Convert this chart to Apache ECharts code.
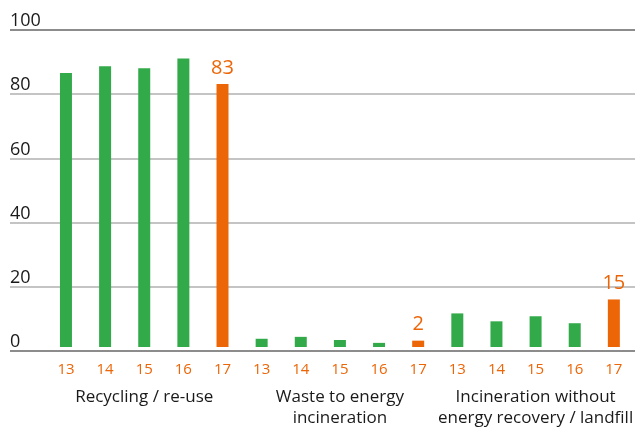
<!DOCTYPE html>
<html>
<head>
<meta charset="utf-8">
<script src="https://cdn.jsdelivr.net/npm/echarts@6/dist/echarts.min.js"></script>
<style>
html,body{margin:0;padding:0;background:#fff;}
#chart{width:636px;height:429px;}
</style>
</head>
<body>
<div id="chart"></div>
<script>
const groups = ['Recycling / re-use', 'Waste to energy\nincineration', 'Incineration without\nenergy recovery / landfill'];
const years = ['13', '14', '15', '16', '17'];
const recycling = [86.4, 88.6, 87.9, 91.0, 83];
const wasteToEnergy = [2.6, 3.2, 2.2, 1.3, 2];
const landfill = [10.6, 8.1, 9.7, 7.5, 15];
const yTicks = [0, 20, 40, 60, 80, 100];

const GREEN = '#33aa4a';
const ORANGE = '#ec6608';
const FONT = 'Open Sans';

const allValues = [recycling, wasteToEnergy, landfill];
const cats = [];
const data = [];
allValues.forEach(function (vals) {
  vals.forEach(function (v, i) {
    cats.push(years[i]);
    const latest = i === years.length - 1;
    data.push({
      value: v,
      itemStyle: { color: latest ? ORANGE : GREEN },
      label: { show: latest }
    });
  });
});

const chart = echarts.init(document.getElementById('chart'));
chart.setOption({
  animation: false,
  grid: [
    { left: 10, right: 1, top: 30, bottom: 78 },
    { left: 46.4, right: 1.4, top: 30, bottom: 78 }
  ],
  xAxis: [
    { gridIndex: 0, type: 'value', show: false, min: 0, max: 1 },
    {
      gridIndex: 1, type: 'category', data: cats,
      axisLine: { show: false }, axisTick: { show: false },
      axisLabel: { color: ORANGE, fontFamily: FONT, fontSize: 15, margin: 15, interval: 0 }
    },
    {
      gridIndex: 1, type: 'category', data: groups, position: 'bottom', offset: 40,
      axisLine: { show: false }, axisTick: { show: false },
      axisLabel: { color: '#1a1a1a', fontFamily: FONT, fontSize: 17, lineHeight: 21, margin: 0, interval: 0, verticalAlign: 'top' }
    }
  ],
  yAxis: [
    {
      gridIndex: 0, type: 'value', min: yTicks[0], max: yTicks[yTicks.length - 1], interval: 20,
      axisLine: { show: false }, axisTick: { show: false },
      splitLine: { show: true, lineStyle: { color: ['#8c8c8c', '#c4c4c4', '#c4c4c4', '#c4c4c4', '#c4c4c4', '#8c8c8c'], width: 2 } },
      axisLabel: { inside: true, margin: 0, color: '#1a1a1a', fontFamily: FONT, fontSize: 18, verticalAlign: 'bottom', align: 'left', lineHeight: 18 }
    },
    { gridIndex: 1, type: 'value', min: 0, max: 100, show: false }
  ],
  series: [{
    type: 'bar', xAxisIndex: 1, yAxisIndex: 1,
    barWidth: 12,
    data: data,
    label: { position: 'top', distance: 6, color: ORANGE, fontFamily: FONT, fontSize: 20 }
  }]
});
</script>
</body>
</html>
